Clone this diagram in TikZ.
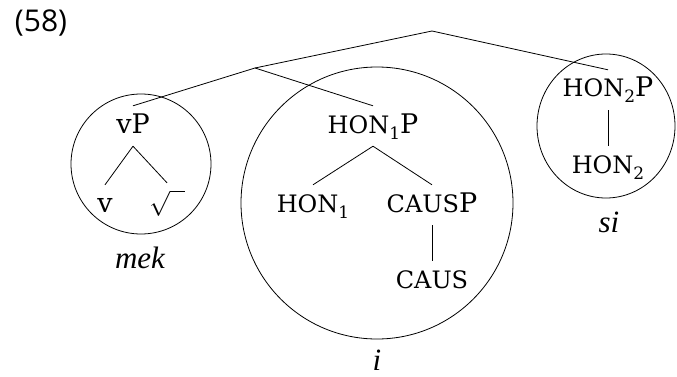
\documentclass[tikz,border=0pt]{standalone}
\usepackage{fontspec}
\setmainfont{DejaVu Serif}
\newfontfamily\numfont{Open Sans}
\newfontfamily\itfont{Liberation Serif}
\newcommand\smc[1]{{\fontsize{24}{24}\selectfont #1}}
\newcommand\sbs[1]{\raisebox{-6pt}{\fontsize{17}{17}\selectfont #1}}
\begin{document}
\begin{tikzpicture}[x=1pt,y=-1pt,
  every node/.style={font=\fontsize{27}{30}\selectfont, inner sep=0pt},
  lbl/.style={anchor=base, text height=20pt, text depth=6pt, inner ysep=7pt, inner xsep=1pt},
  word/.style={anchor=base, font=\itfont\fontsize{31}{34}\selectfont\itshape},
  edge/.style={line width=0.8pt},
  ring/.style={line width=0.8pt}]
\useasboundingbox (0,0) rectangle (677,377);
% example number
\node[anchor=base, font=\numfont\fontsize{30}{32}\selectfont] (ex) at (41,32) {(58)};
% branching points
\coordinate (root) at (432,31);
\coordinate (mid) at (255,68);
% circles
\draw[ring] (141,164) circle[radius=70pt];
\draw[ring] (377,203) circle[radius=136pt];
\draw[ring] (606,126) ellipse[x radius=69pt, y radius=72pt];
% vP
\node[lbl] (vP) at (133,133) {vP};
\node[lbl] (v) at (105,212) {v};
\node[lbl] (rt) at (167,210) {\fontsize{30}{32}\selectfont$\sqrt{\phantom{n}}$};
% HON1P
\node[lbl] (h1p) at (373,133) {\smc{HON}\sbs{1}P};
\node[lbl] (h1) at (313,212) {\smc{HON}\sbs{1}};
\node[lbl] (cp) at (432,212) {\smc{CAUS}P};
\node[lbl] (c) at (432,288) {\smc{CAUS}};
% HON2P
\node[lbl] (h2p) at (608,97) {\smc{HON}\sbs{2}P};
\node[lbl] (h2) at (608,173) {\smc{HON}\sbs{2}};
% words
\node[word] (mek) at (140,268) {mek};
\node[word] (i) at (377,370) {i};
\node[word] (si) at (609,232) {si};
% connectors
\draw[edge] (root) -- (mid);
\draw[edge] (root) -- (h2p.north);
\draw[edge] (mid) -- (vP.north);
\draw[edge] (mid) -- (h1p.north);
\draw[edge] (vP.south) -- (v.north);
\draw[edge] (vP.south) -- (rt.north);
\draw[edge] (h1p.south) -- (h1.north);
\draw[edge] (h1p.south) -- (cp.north);
\draw[edge] (cp.south) -- (c.north);
\draw[edge] (h2p.south) -- (h2.north);
\end{tikzpicture}
\end{document}
